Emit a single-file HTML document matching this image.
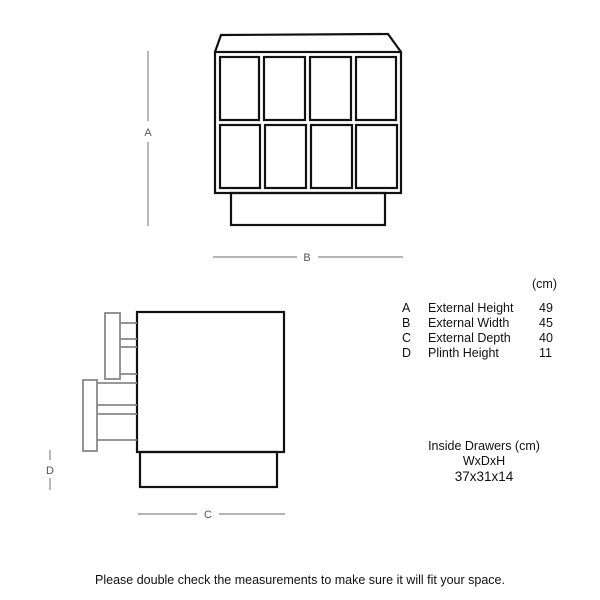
<!DOCTYPE html>
<html><head><style>
html,body{margin:0;padding:0;background:#fff;width:600px;height:600px;overflow:hidden}
svg{display:block}
text{font-family:"Liberation Sans",sans-serif;fill:#111}
</style></head><body>
<svg width="600" height="600" viewBox="0 0 600 600">
<g fill="none" stroke="#111" stroke-width="2.2">
<path d="M215,52 L221,35 L388,34 L401,52"/>
<rect x="215" y="52" width="186" height="141"/>
<rect x="220" y="57" width="39" height="63"/>
<rect x="264" y="57" width="41" height="63"/>
<rect x="310" y="57" width="41" height="63"/>
<rect x="356" y="57" width="40" height="63"/>
<rect x="220" y="125" width="40" height="63"/>
<rect x="265" y="125" width="41" height="63"/>
<rect x="311" y="125" width="41" height="63"/>
<rect x="356" y="125" width="41" height="63"/>
<rect x="231" y="193" width="154" height="32"/>
<rect x="137" y="312" width="147" height="140"/>
<rect x="140" y="452" width="137" height="35"/>
</g>
<g fill="none" stroke="#888" stroke-width="1.8">
<rect x="105" y="313" width="15" height="66"/>
<line x1="120" y1="323" x2="137" y2="323"/><line x1="120" y1="339" x2="137" y2="339"/>
<line x1="120" y1="347" x2="137" y2="347"/><line x1="120" y1="374" x2="137" y2="374"/>
<rect x="83" y="380" width="14" height="71"/>
<line x1="97" y1="383" x2="137" y2="383"/><line x1="97" y1="405" x2="137" y2="405"/>
<line x1="97" y1="414" x2="137" y2="414"/><line x1="97" y1="440" x2="137" y2="440"/>
</g>
<g stroke="#888" stroke-width="1.2">
<line x1="148" y1="51" x2="148" y2="121"/><line x1="148" y1="142" x2="148" y2="226"/>
<line x1="213" y1="257" x2="297" y2="257"/><line x1="318" y1="257" x2="403" y2="257"/>
<line x1="138" y1="514" x2="197" y2="514"/><line x1="219" y1="514" x2="285" y2="514"/>
<line x1="50" y1="450" x2="50" y2="460"/><line x1="50" y1="478" x2="50" y2="490"/>
</g>
<g font-size="11" text-anchor="middle" style="fill:#555">
<text x="148" y="136" style="fill:#555">A</text>
<text x="307" y="261" style="fill:#555">B</text>
<text x="208" y="518" style="fill:#555">C</text>
<text x="50" y="474" style="fill:#555">D</text>
</g>
<g font-size="12.5">
<text x="532" y="288">(cm)</text>
<text x="402" y="312">A</text><text x="428" y="312">External Height</text><text x="539" y="312">49</text>
<text x="402" y="327">B</text><text x="428" y="327">External Width</text><text x="539" y="327">45</text>
<text x="402" y="342">C</text><text x="428" y="342">External Depth</text><text x="539" y="342">40</text>
<text x="402" y="357">D</text><text x="428" y="357">Plinth Height</text><text x="539" y="357">11</text>
<text x="484" y="450" text-anchor="middle">Inside Drawers (cm)</text>
<text x="484" y="465" text-anchor="middle">WxDxH</text>
<text x="484" y="481" text-anchor="middle" font-size="13.5">37x31x14</text>
<text x="300" y="584" text-anchor="middle" font-size="12.5">Please double check the measurements to make sure it will fit your space.</text>
</g>
</svg>
</body></html>
